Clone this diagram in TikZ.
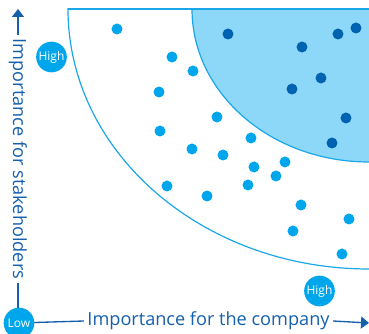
\documentclass[tikz,border=0pt]{standalone}
\usepackage{fontspec}
\setmainfont{Open Sans}
\usetikzlibrary{arrows.meta}

\definecolor{lightdot}{RGB}{0,166,235}
\definecolor{darkdot}{RGB}{0,99,177}
\definecolor{zonefill}{RGB}{141,216,248}
\definecolor{axisblue}{RGB}{21,96,172}
\definecolor{arcblue}{RGB}{26,167,232}

\tikzset{
  level/.style={circle,fill=lightdot,text=white,inner sep=0pt,minimum size=23pt,font=\fontsize{9}{10}\selectfont},
  axtext/.style={text=axisblue,inner sep=2.5pt,font=\fontsize{13.6}{15}\selectfont},
  axline/.style={draw=axisblue,line width=1pt},
}

\begin{document}
\begin{tikzpicture}[x=0.75pt,y=0.75pt,yscale=-1,xscale=1]
\useasboundingbox (0,0) rectangle (369,334);

%Zones
\begin{scope}
\clip (0,9) rectangle (369,334);
\fill [zonefill] (369,9) ellipse [x radius=177,y radius=153];
\draw [arcblue,line width=0.9pt] (369,9) ellipse [x radius=177,y radius=153];
\draw [arcblue,line width=0.9pt] (369,9) ellipse [x radius=301,y radius=260];
\end{scope}
%Top edge
\draw [arcblue,line width=0.9pt] (68,9) -- (369,9);

%Dots
\foreach \p in {(117,29),(172,57),(193,71),(159,92),(217,117),(160,131),(251,138),
  (192,149),(223,155),(285,162),(254,167),(276,176),(248,185),(167,186),(207,196),
  (301,205),(349,219),(293,231),(342,254)}
  \fill [lightdot] \p circle [radius=5.5];
\foreach \p in {(228,34),(302,47),(338,34),(356,28),(321,78),(292,89),(346,118),(332,143)}
  \fill [darkdot] \p circle [radius=5.5];

% Axis labels
\node (ylab) [axtext,rotate=-90] at (18,159) {Importance for stakeholders};
\node (xlab) [axtext] at (208.5,321) {Importance for the company};
\coordinate (ytip) at (18,9);
\coordinate (xtip) at (369,323);

% Axes
\draw [axline] (18,323) -- (ylab.east);
\draw [axline,-{Triangle[width=9pt,length=6pt]}] (ylab.west) -- (ytip);
\draw [axline] (19,323) -- (xlab.west);
\draw [axline,-{Triangle[width=9pt,length=6pt]}] (xlab.east) -- (xtip);

% Level marks
\node (low) [level] at (19,323) {Low};
\node (highy) [level] at (51.5,57) {High};
\node (highx) [level] at (319.5,291) {High};

\end{tikzpicture}
\end{document}
